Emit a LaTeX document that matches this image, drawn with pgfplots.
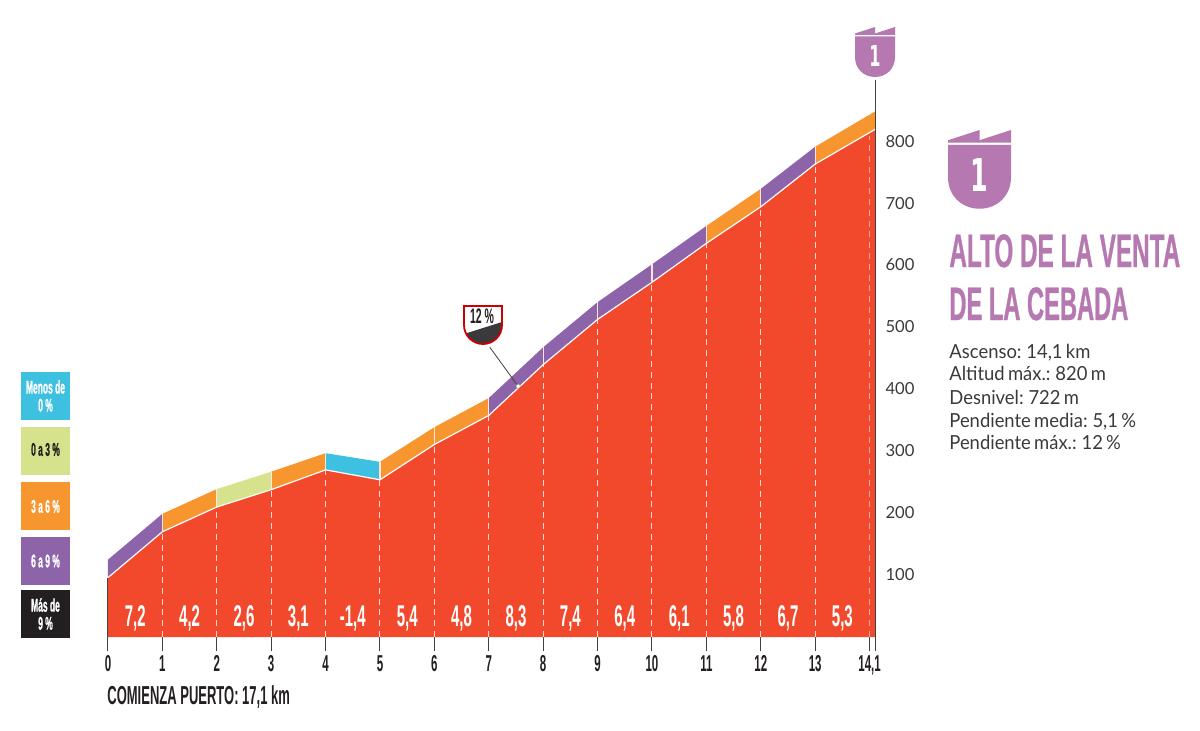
\documentclass[border=0pt]{standalone}
\usepackage{pgfplots}
\pgfplotsset{compat=1.18}
\usepackage{fontspec}
\setmainfont[FakeStretch=0.95,WordSpace=0.7]{Lato}
\newfontfamily\latotick{Lato}
\newfontfamily\cond[FakeStretch=0.5,UprightFont={* Bold}]{Liberation Sans}
\newfontfamily\condt[FakeStretch=0.504,FakeBold=0.6,UprightFont={* Bold}]{Liberation Sans}
\newfontfamily\condta[FakeStretch=0.517,FakeBold=0.6,UprightFont={* Bold}]{Liberation Sans}
\newfontfamily\condl[FakeStretch=0.46,FakeBold=0.8,UprightFont={* Bold}]{Liberation Sans}
\newfontfamily\condx[FakeStretch=0.56,UprightFont={* Bold}]{DejaVu Sans}
\definecolor{cred}{HTML}{F2492D}
\definecolor{corange}{HTML}{F7952F}
\definecolor{cpurple}{HTML}{8D63A9}
\definecolor{cgreen}{HTML}{D6E38C}
\definecolor{cblue}{HTML}{3EC1E0}
\definecolor{cblack}{HTML}{231F20}
\definecolor{cmauve}{HTML}{B678B1}
\definecolor{ctext}{HTML}{3A3A3C}
\newcommand{\flag}[1]{%
  \fill[#1] (0,6.5)--(20,0)--(20,6.5)--(40,0)--(40,8)--(0,8)--cycle;
  \fill[#1] (0,9.5)--(40,9.5)--(40,30) .. controls (40,42) and (31,50) .. (20,50) .. controls (9,50) and (0,42) .. (0,30) --cycle;}
\newcommand{\km}[2]{\node[text=white,font=\cond\fontsize{15}{15}\selectfont] at (axis cs:#1,30) {#2};}
\begin{document}
\begin{tikzpicture}
\path[use as bounding box] (0,0) rectangle (600pt,365pt);
\begin{axis}[
  at={(54pt,46.5pt)},anchor=south west,scale only axis,
  width=383.5pt,height=309.5pt,
  xmin=0,xmax=14.1,ymin=0,ymax=1000,clip=false,
  axis line style={draw=none},
  xtick={0,1,2,3,4,5,6,7,8,9,10,11,12,13,14,14.1},
  xticklabels={0,1,2,3,4,5,6,7,8,9,10,11,12,13,{14,1},{}},
  xtick pos=bottom,
  ytick={100,200,300,400,500,600,700,800},
  ytick pos=right,
  yticklabel pos=right,
  tick align=outside,
  x tick style={draw=cblack!85,line width=.5pt},
  y tick style={draw=none},
  xtick style={/pgfplots/major tick length=7pt},
  ytick style={/pgfplots/major tick length=0pt},
  x tick label style={font=\cond\fontsize{11.5}{11.5}\selectfont,text=cblack,yshift=-1.5pt},
  y tick label style={font=\latotick\fontsize{8.3}{8.3}\selectfont,text=ctext,xshift=-2.5pt,yshift=.3pt},
  /pgf/number format/assume math mode=true,
]
% coloured gradient bands
\addplot[fill=cpurple,draw=none] coordinates {(0,96)(1,170)(1,199)(0,125)} --cycle;
\addplot[fill=corange,draw=none] coordinates {(1,170)(2,210)(2,239)(1,199)} --cycle;
\addplot[fill=cgreen,draw=none] coordinates {(2,210)(3,238)(3,267)(2,239)} --cycle;
\addplot[fill=corange,draw=none] coordinates {(3,238)(4,270)(4,297)(3,267)} --cycle;
\addplot[fill=cblue,draw=none] coordinates {(4,270)(5,254)(5,283)(4,297)} --cycle;
\addplot[fill=corange,draw=none] coordinates {(5,254)(6,311)(6,339)(5,283)} --cycle;
\addplot[fill=corange,draw=none] coordinates {(6,311)(7,358)(7,386)(6,339)} --cycle;
\addplot[fill=cpurple,draw=none] coordinates {(7,358)(8,440)(8,468)(7,386)} --cycle;
\addplot[fill=cpurple,draw=none] coordinates {(8,440)(9,513)(9,541)(8,468)} --cycle;
\addplot[fill=cpurple,draw=none] coordinates {(9,513)(10,573)(10,602)(9,541)} --cycle;
\addplot[fill=cpurple,draw=none] coordinates {(10,573)(11,636)(11,664)(10,602)} --cycle;
\addplot[fill=corange,draw=none] coordinates {(11,636)(12,695)(12,724)(11,664)} --cycle;
\addplot[fill=cpurple,draw=none] coordinates {(12,695)(13,764)(13,792)(12,724)} --cycle;
\addplot[fill=corange,draw=none] coordinates {(13,764)(14.1,820)(14.1,849)(13,792)} --cycle;
% solid separators in the band
\addplot[ycomb,white!85!cred,line width=.6pt,mark=none] coordinates {(1,199)(2,239)(3,267)(4,297)(5,283)(6,339)(7,386)(8,468)(9,541)(10,602)(11,664)(12,724)(13,792)};
% profile
\addplot[fill=cred,draw=none] coordinates {(0,0)(0,96)(1,170)(2,210)(3,238)(4,270)(5,254)(6,311)(7,358)(8,440)(9,513)(10,573)(11,636)(12,695)(13,764)(14.1,820)(14.1,0)} --cycle;
\addplot[ycomb,white,opacity=.8,line width=.5pt,dash pattern=on 3pt off 2.4pt,mark=none] coordinates {(1,170)(2,210)(3,238)(4,270)(5,254)(6,311)(7,358)(8,440)(9,513)(10,573)(11,636)(12,695)(13,764)};
\addplot[ycomb,white,opacity=.55,line width=.9pt,dash pattern=on 3pt off 2.4pt,mark=none] coordinates {(14,810)};
\addplot[white,line width=.6pt,mark=none] coordinates {(0,96)(1,170)(2,210)(3,238)(4,270)(5,254)(6,311)(7,358)(8,440)(9,513)(10,573)(11,636)(12,695)(13,764)(14.1,820)};
% axis line up to the flag
\addplot[cblack!85,line width=.5pt,mark=none] coordinates {(0,0)(0,96)};
\addplot[cblack!85,line width=.45pt,mark=none] coordinates {(14.1,0)(14.1,900)};
% 12 % pointer
\addplot[cblack!85,line width=.4pt,mark=none] coordinates {(7.54,405)(7.02,468)};
\addplot[only marks,mark=*,mark size=1.1pt,mark options={fill=white,draw=cblack!60,line width=.2pt}] coordinates {(7.54,405)};
\km{0.5}{7,2}\km{1.5}{4,2}\km{2.5}{2,6}\km{3.5}{3,1}\km{4.5}{-1,4}\km{5.5}{5,4}\km{6.5}{4,8}
\km{7.5}{8,3}\km{8.5}{7,4}\km{9.5}{6,4}\km{10.5}{6,1}\km{11.5}{5,8}\km{12.5}{6,7}\km{13.5}{5,3}
\end{axis}
\begin{scope}[x=.5pt,y=-.5pt,yshift=365pt]
% legend
\fill[cblue] (21,372) rectangle (70,420);
\fill[cgreen] (21,427) rectangle (70,475);
\fill[corange] (21,482) rectangle (70,530);
\fill[cpurple] (21,537) rectangle (70,585);
\fill[cblack] (21,590) rectangle (70,638);
\tikzset{lg/.style={align=center,font=\condl\fontsize{9.2}{9}\selectfont}}
\node[lg,text=white] at (45.5,396) {Menos de\\0 \%};
\node[lg,text=cblack] at (45.5,449.5) {0 a 3 \%};
\node[lg,text=white] at (45.5,506.5) {3 a 6 \%};
\node[lg,text=white] at (45.5,561) {6 a 9 \%};
\node[lg,text=white] at (45.5,614) {Más de\\9 \%};
% start note
\node[anchor=west,inner sep=0pt,text=cblack,font=\cond\fontsize{13}{13}\selectfont] at (107,697) {COMIENZA PUERTO: 17,1 km};
% flags
\begin{scope}[shift={(855,27)}]\flag{cmauve}\end{scope}
\node[text=white,font=\condx\fontsize{14.4}{14.4}\selectfont] at (875,56) {1};
\begin{scope}[shift={(948,130)},scale=1.575]\flag{cmauve}\end{scope}
\node[text=white,font=\condx\fontsize{22.6}{22.6}\selectfont] at (979,175) {1};
% title
\node[anchor=base west,inner sep=0pt,text=cmauve,font=\condta\fontsize{23.5}{23.5}\selectfont] at (949,267) {ALTO DE LA VENTA};
\node[anchor=base west,inner sep=0pt,text=cmauve,font=\condt\fontsize{23.5}{23.5}\selectfont] at (949,320) {DE LA CEBADA};
% details
\tikzset{dt/.style={anchor=base west,inner sep=0pt,text=ctext,font=\fontsize{9.7}{9.7}\selectfont}}
\node[dt] at (949,358) {Ascenso: 14,1 km};
\node[dt] at (949,380) {Altitud máx.: 820 m};
\node[dt] at (949,404) {Desnivel: 722 m};
\node[dt] at (949,427) {Pendiente media: 5,1 \%};
\node[dt] at (949,449) {Pendiente máx.: 12 \%};
% 12 % shield
\begin{scope}
\clip (464,306)--(502,306)--(502,325) .. controls (502,336) and (493,344) .. (483,344) .. controls (473,344) and (464,336) .. (464,325)--cycle;
\fill[white] (460,300) rectangle (506,350);
\fill[ctext] (464,334)--(502,322)--(502,350)--(464,350)--cycle;
\end{scope}
\draw[red!80!black,line width=.9pt] (464,306)--(502,306)--(502,325) .. controls (502,336) and (493,344) .. (483,344) .. controls (473,344) and (464,336) .. (464,325)--cycle;
\node[text=cblack,font=\cond\fontsize{10.5}{10.5}\selectfont] at (482,316) {12 \%};
\end{scope}
\end{tikzpicture}
\end{document}
